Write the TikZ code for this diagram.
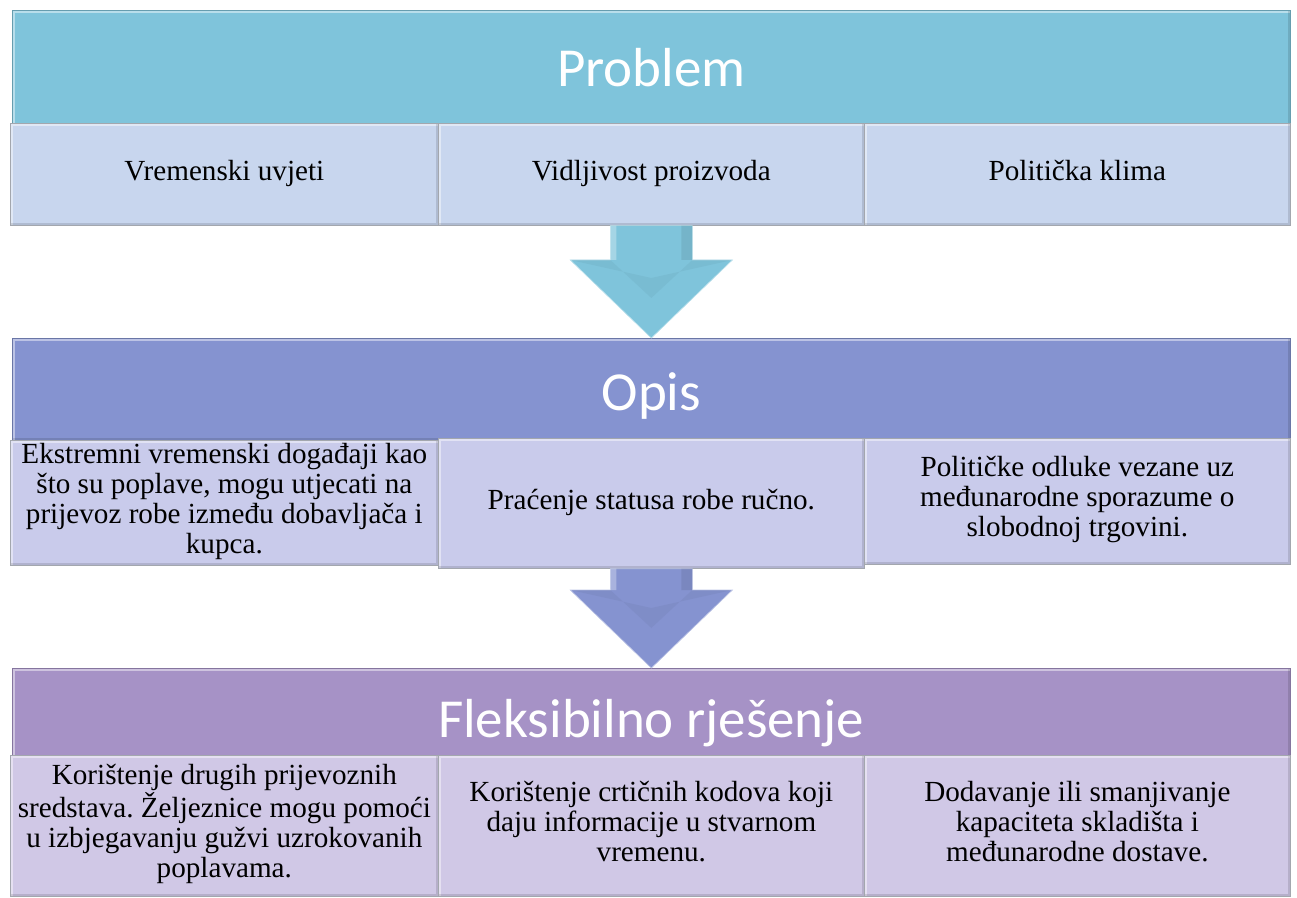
\documentclass[tikz,border=0pt]{standalone}
\usepackage{fontspec}
\setmainfont{Liberation Serif}
\newfontfamily\headfont{Carlito}
\usetikzlibrary{calc,positioning}
\definecolor{probHead}{HTML}{7FC4DB}
\definecolor{probCell}{HTML}{C8D6EE}
\definecolor{opisHead}{HTML}{8593D0}
\definecolor{opisCell}{HTML}{C9CBEB}
\definecolor{rjesHead}{HTML}{A692C6}
\definecolor{rjesCell}{HTML}{D0C8E6}
\definecolor{edgeGray}{HTML}{A3A7AE}
\frenchspacing

% block arrow from a cell down to the next header
\newcommand{\flowarrow}[3]{%
  \filldraw[fill=#3, draw=#3!55!white, line join=miter]
    ($(#1.south)+(-41,0)$) -- ($(#2.north)+(-41,-78)$) -- ($(#2.north)+(-81,-78)$)
    -- (#2.north) -- ($(#2.north)+(81,-78)$) -- ($(#2.north)+(41,-78)$)
    -- ($(#1.south)+(41,0)$) -- cycle;
  \fill[#3!80!black, opacity=.2]
    ($(#2.north)+(-81,-78)$) -- ($(#2.north)+(-41,-78)$) -- ($(#2.north)+(0,-40)$)
    -- ($(#2.north)+(41,-78)$) -- ($(#2.north)+(81,-78)$) -- ($(#2.north)+(0,-60)$) -- cycle;
  \fill[white, opacity=.3]
    ($(#1.south)+(-41,0)$) -- ($(#2.north)+(-41,-78)$) -- ($(#2.north)+(-35,-78)$) -- ($(#1.south)+(-35,0)$) -- cycle;
  \fill[black, opacity=.08]
    ($(#1.south)+(41,0)$) -- ($(#2.north)+(41,-78)$) -- ($(#2.north)+(30,-78)$) -- ($(#1.south)+(30,0)$) -- cycle;}

\begin{document}
\begin{tikzpicture}[x=0.6pt, y=-0.6pt,
    bevel/.style={path picture={
        \draw[white, opacity=.45, line width=3pt]
          (path picture bounding box.south west) -- (path picture bounding box.north west)
          -- (path picture bounding box.north east);
        \draw[black, opacity=.12, line width=3pt]
          (path picture bounding box.north east) -- (path picture bounding box.south east)
          -- (path picture bounding box.south west);}},
    hd/.style={draw=#1!80!black, fill=#1, minimum width=766.8pt, inner sep=0pt,
      anchor=north west, bevel},
    headtext/.style={text=white, font=\headfont\fontsize{33}{36}\selectfont},
    cell/.style={draw=edgeGray, fill=#1, font=\fontsize{17.5}{18}\selectfont,
      align=center, inner sep=0pt, anchor=north west, bevel,
      execute at begin node=\strut, execute at end node=\strut}]
  \useasboundingbox (0,0) rectangle (1297,898);

  % Problem
  \node[hd=probHead, minimum height=69pt,
    label={[headtext]center:Problem}] (hprob) at (12,10) {};
  \node[cell=probCell, minimum width=256.8pt, minimum height=61.2pt] (p1) at (10,123) {Vremenski uvjeti};
  \node[cell=probCell, minimum width=255.6pt, minimum height=61.2pt] (p2) at (438,123) {Vidljivost proizvoda};
  \node[cell=probCell, minimum width=255.6pt, minimum height=61.2pt] (p3) at (864,123) {Politička klima};

  % Opis
  \node[hd=opisHead, minimum height=61.2pt,
    label={[headtext, yshift=-4pt]center:Opis}] (hopis) at (12,338) {};
  \node[cell=opisCell, minimum width=256.8pt, minimum height=75pt] (o1) at (10,440)
    {Ekstremni vremenski događaji kao\\ što su poplave, mogu utjecati na\\
     prijevoz robe između dobavljača i\\ kupca.};
  \node[cell=opisCell, minimum width=255.6pt, minimum height=78pt] (o2) at (438,438)
    {Praćenje statusa robe ručno.};
  \node[cell=opisCell, minimum width=255.6pt, minimum height=75.6pt] (o3) at (864,438)
    {Političke odluke vezane uz\\ međunarodne sporazume o\\ slobodnoj trgovini.};

  % Fleksibilno rjesenje
  \node[hd=rjesHead, minimum height=53.4pt,
    label={[headtext, yshift=-6pt]center:Fleksibilno rješenje}] (hrjes) at (12,668) {};
  \node[cell=rjesCell, minimum width=256.8pt, minimum height=84.6pt] (r1) at (10,755)
    {Korištenje drugih prijevoznih\\ sredstava. Željeznice mogu pomoći\\
     u izbjegavanju gužvi uzrokovanih\\ poplavama.};
  \node[cell=rjesCell, minimum width=255.6pt, minimum height=84.6pt] (r2) at (438,755)
    {Korištenje crtičnih kodova koji\\ daju informacije u stvarnom\\ vremenu.};
  \node[cell=rjesCell, minimum width=255.6pt, minimum height=84.6pt] (r3) at (864,755)
    {Dodavanje ili smanjivanje\\ kapaciteta skladišta i\\ međunarodne dostave.};

  \flowarrow{p2}{hopis}{probHead}
  \flowarrow{o2}{hrjes}{opisHead}
\end{tikzpicture}
\end{document}
